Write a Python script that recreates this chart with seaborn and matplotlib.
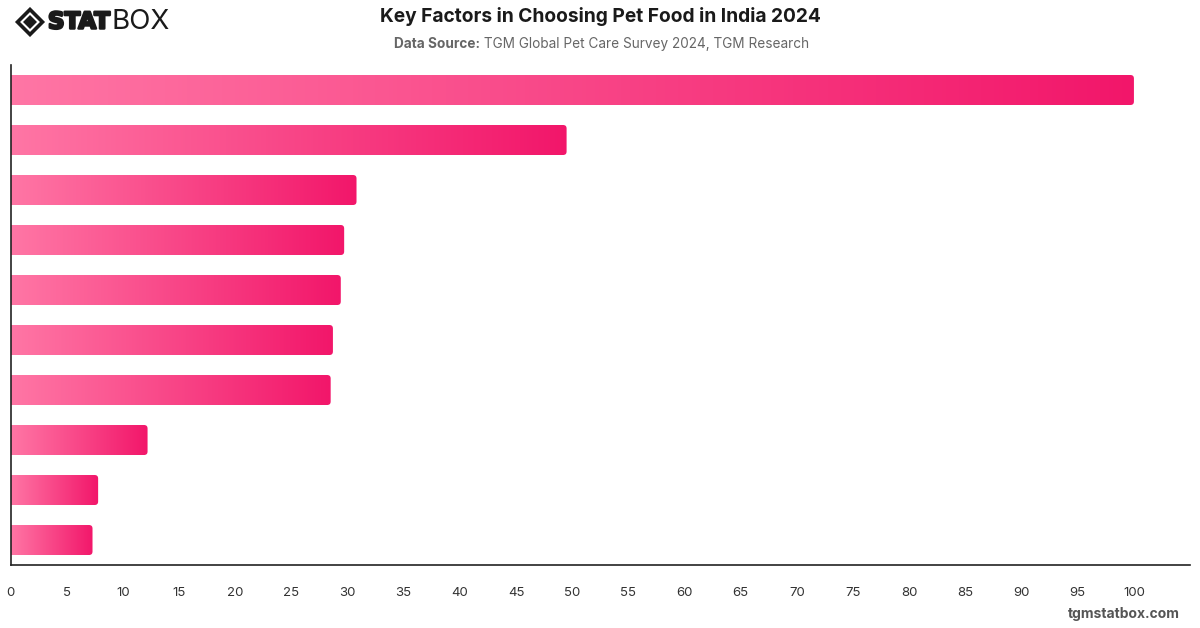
import matplotlib
matplotlib.use('Agg')
import matplotlib.pyplot as plt
import matplotlib.patheffects as pe
import numpy as np
import pandas as pd
import seaborn as sns
from matplotlib.colors import LinearSegmentedColormap
from matplotlib.patches import FancyBboxPatch, Polygon

# data (index, largest factor = 100); category names are not shown on the chart
factors = ['Factor 1', 'Factor 2', 'Factor 3', 'Factor 4', 'Factor 5',
           'Factor 6', 'Factor 7', 'Factor 8', 'Factor 9', 'Factor 10']
scores = [100, 49.5, 30.8, 29.7, 29.4, 28.7, 28.5, 12.2, 7.8, 7.3]
x_ticks = list(range(0, 101, 5))

title = 'Key Factors in Choosing Pet Food in India 2024'
source_bold = 'Data Source:'
source_text = ' TGM Global Pet Care Survey 2024, TGM Research'

light_pink = '#FF76A5'
deep_pink = '#F2166A'
text_color = '#333333'

sns.set_style('white')
plt.rcParams['font.family'] = ['Inter', 'DejaVu Sans']

df = pd.DataFrame({'factor': factors, 'score': scores})

fig = plt.figure(figsize=(12, 6.28), dpi=100)
ax = fig.add_axes([0.00875, 0.1003, 0.9830, 0.7962])

sns.barplot(data=df, x='score', y='factor', orient='h', width=0.6,
            color=deep_pink, ax=ax)

ax.set_xlim(0, 105)
ax.set_ylim(len(factors) - 0.5, -0.5)

# replace plain bars by left-to-right gradients with rounded right corners
cmap = LinearSegmentedColormap.from_list('pink', [light_pink, deep_pink])
grad = np.linspace(0, 1, 256).reshape(1, -1)
x_px = ax.get_position().width * fig.get_figwidth() * fig.dpi / 105
y_px = ax.get_position().height * fig.get_figheight() * fig.dpi / len(factors)
r = 3.5 / x_px
for bar in list(ax.patches):
    x0, y0 = bar.get_x(), bar.get_y()
    w, h = bar.get_width(), bar.get_height()
    bar.set_visible(False)
    im = ax.imshow(grad, cmap=cmap, aspect='auto',
                   extent=(x0, x0 + w, y0 + h, y0), zorder=2)
    clip = FancyBboxPatch((x0 - 2, y0), w + 2, h,
                          boxstyle=f'round,pad=0,rounding_size={r}',
                          mutation_aspect=x_px / y_px,
                          transform=ax.transData, facecolor='none',
                          edgecolor='none')
    ax.add_patch(clip)
    im.set_clip_path(clip)

ax.set_xlim(0, 105)
ax.set_ylim(len(factors) - 0.5, -0.5)
ax.set_xticks(x_ticks)
ax.set_xticklabels([str(t) for t in x_ticks], fontsize=9.5, color=text_color)
ax.set_yticks([])
ax.set_xlabel('')
ax.set_ylabel('')
ax.tick_params(axis='x', length=0, pad=16)
sns.despine(ax=ax, top=True, right=True)
for side in ['left', 'bottom']:
    ax.spines[side].set_color('#222222')
    ax.spines[side].set_linewidth(1.2)

# titles
fig.text(0.5, 1 - 17 / 628, title, ha='center', va='center',
         fontsize=13.8, fontweight='bold', color='#1a1a1a')
src = fig.text(0.5, 1 - 44 / 628, source_bold + source_text, ha='center',
               va='center', fontsize=9.8, color='#666666')
fig.canvas.draw()
bb = src.get_window_extent()
src.set_visible(False)
t1 = fig.text(bb.x0 / 1200, 1 - 44 / 628, source_bold, ha='left',
              va='center', fontsize=9.8, fontweight='bold', color='#666666')
fig.canvas.draw()
bb1 = t1.get_window_extent()
fig.text(bb1.x1 / 1200, 1 - 44 / 628, source_text, ha='left', va='center',
         fontsize=9.8, color='#666666')

# logo
cx, cy = 30 / 1200, 1 - 22 / 628
dx, dy = 12.5 / 1200, 12.5 / 628
fig.patches.append(Polygon([(cx - dx, cy), (cx, cy + dy), (cx + dx, cy),
                            (cx, cy - dy)], closed=True, fill=False,
                           edgecolor='#1a1a1a', linewidth=2.6,
                           transform=fig.transFigure))
ix, iy = 7 / 1200, 7 / 628
fig.patches.append(Polygon([(cx - ix, cy), (cx, cy + iy), (cx + ix, cy),
                            (cx, cy - iy)], closed=True, facecolor='#1a1a1a',
                           edgecolor='none', transform=fig.transFigure))
logo1 = fig.text(48 / 1200, cy, 'STAT', ha='left', va='center',
                 fontsize=16.5, fontweight='bold', color='#1a1a1a',
                 family=['DejaVu Sans'],
                 path_effects=[pe.withStroke(linewidth=1.8,
                                             foreground='#1a1a1a')])
fig.canvas.draw()
lb = logo1.get_window_extent()
fig.text(lb.x1 / 1200 + 1 / 1200, cy, 'BOX', ha='left', va='center',
         fontsize=20, fontweight='normal', color='#1a1a1a',
         family=['Inter', 'DejaVu Sans'])

# watermark
fig.text(1180 / 1200, 1 - 614 / 628, 'tgmstatbox.com', ha='right',
         va='center', fontsize=10, fontweight='bold', color='#555555')

fig.savefig('out.png', dpi=100, facecolor='white')
